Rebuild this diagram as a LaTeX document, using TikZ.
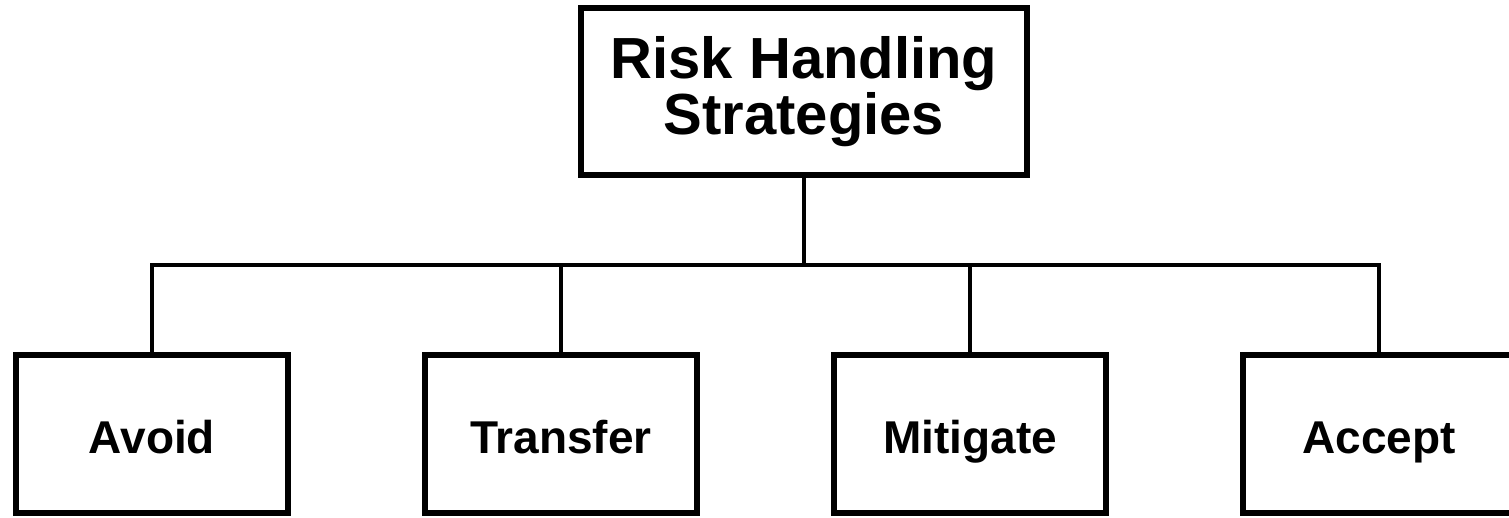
\documentclass[tikz,border=0pt]{standalone}
\usepackage{fontspec}
\setmainfont{Liberation Sans}
\usepackage{tikz}
\usetikzlibrary{positioning}

\begin{document}
\begin{tikzpicture}[topnode/.style={rectangle, draw=black, line width=3pt, minimum width=223pt, minimum height=83.5pt, align=center, font=\fontsize{29}{28}\selectfont\bfseries},
        leafnode/.style={rectangle, draw=black, line width=3pt, minimum width=136pt, minimum height=79pt, text height=19pt, text depth=0pt, font=\fontsize{23}{26}\selectfont\bfseries},
        link/.style={draw=black, line width=2.4pt}]

        \useasboundingbox (0,0) rectangle (754.5pt,-259pt);

        \node[topnode] (root) at (402pt,-45.75pt) {Risk Handling\\Strategies};
        \coordinate (bar) at (402pt,-132.5pt);

        \node[leafnode] (avoid) at (76pt,-217pt) {Avoid};
        \node[leafnode] (transfer) [right=65.5pt of avoid] {Transfer};
        \node[leafnode] (mitigate) [right=65.5pt of transfer] {Mitigate};
        \node[leafnode] (accept) [right=65.5pt of mitigate] {Accept};

        \draw[link] (root.south) -- (bar);
        \draw[link] (avoid.north) |- (bar -| accept.north) -- (accept.north);
        \draw[link] (transfer.north) -- (transfer.north |- bar);
        \draw[link] (mitigate.north) -- (mitigate.north |- bar);

\end{tikzpicture}
\end{document}
